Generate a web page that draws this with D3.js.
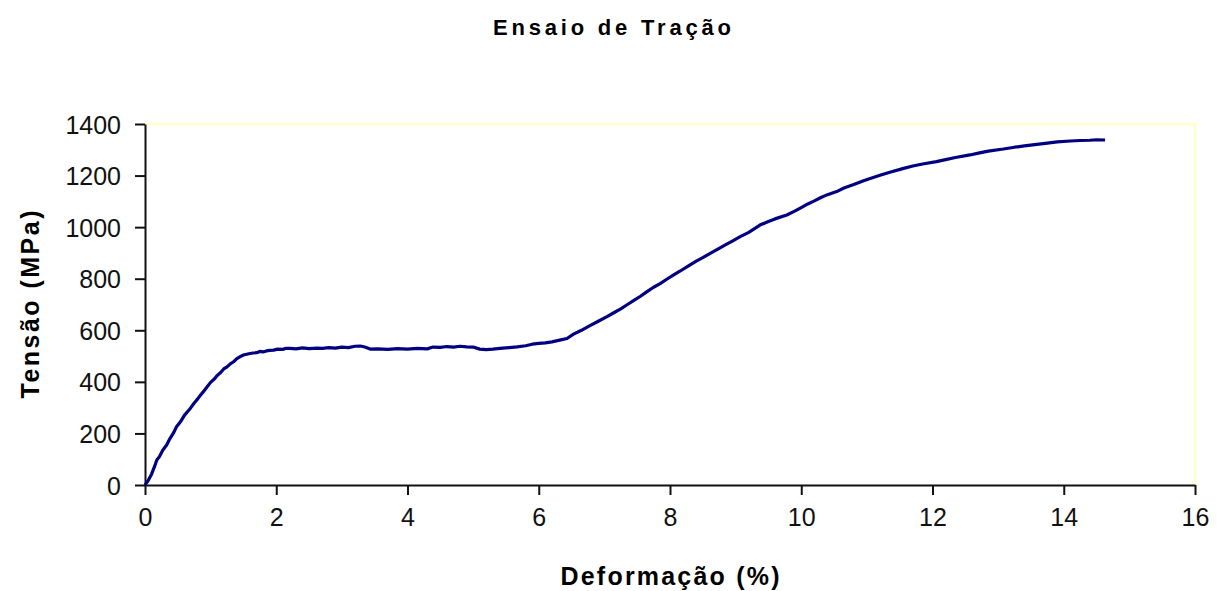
<!DOCTYPE html>
<html>
<head>
<meta charset="utf-8">
<script src="https://cdn.jsdelivr.net/npm/d3@7"></script>
<style>
  html, body { margin: 0; padding: 0; background: #fff; }
  svg { display: block; font-family: "Liberation Sans", Arial, sans-serif; }
</style>
</head>
<body>
<svg id="chart" width="1221" height="591"></svg>
<script>
// Tensile test: strain (%) vs. stress (MPa)
const strain = [
  0, 0.05, 0.10, 0.15, 0.18, 0.22, 0.27, 0.33, 0.38, 0.43, 0.48, 0.54, 0.60, 0.65, 0.69,
  0.75, 0.80, 0.85, 0.89, 0.95, 1.00, 1.06, 1.10, 1.14, 1.20, 1.25, 1.30, 1.35, 1.40, 1.45,
  1.50, 1.55, 1.60, 1.65, 1.70, 1.75, 1.80, 1.85, 1.90, 1.96, 2.02, 2.10, 2.15, 2.21, 2.30,
  2.40, 2.50, 2.62, 2.70, 2.80, 2.90, 3.00, 3.10, 3.20, 3.28, 3.35, 3.43, 3.55, 3.70, 3.85,
  4.00, 4.15, 4.30, 4.39, 4.50, 4.60, 4.70, 4.80, 4.90, 5.00, 5.10, 5.20, 5.30, 5.45, 5.55,
  5.67, 5.80, 5.90, 6.00, 6.10, 6.20, 6.32, 6.43, 6.53, 6.65, 6.78, 6.90, 7.04, 7.15, 7.25,
  7.34, 7.45, 7.55, 7.65, 7.75, 7.85, 7.95, 8.05, 8.15, 8.30, 8.40, 8.50, 8.66, 8.75, 8.85,
  8.95, 9.07, 9.20, 9.30, 9.37, 9.50, 9.60, 9.78, 9.90, 10.00, 10.10, 10.20, 10.30, 10.40, 10.54,
  10.65, 10.80, 10.95, 11.05, 11.20, 11.35, 11.56, 11.70, 11.85, 12.06, 12.20, 12.35, 12.57, 12.70, 12.85,
  13.08, 13.25, 13.40, 13.59, 13.75, 13.90, 14.10, 14.25, 14.40, 14.50, 14.63
];
const stress = [
  0, 18, 42, 75, 97, 110, 135, 155, 180, 200, 226, 245, 270, 285, 297,
  318, 333, 350, 362, 382, 398, 412, 425, 433, 450, 458, 470, 478, 490, 498,
  504, 507, 510, 512, 513, 518, 516, 520, 522, 523, 527, 526, 530, 530, 528,
  532, 529, 531, 530, 533, 531, 535, 533, 538, 539, 535, 527, 528, 526, 529,
  527, 530, 528, 535, 534, 537, 535, 538, 536, 535, 527, 525, 527, 531, 533,
  536, 540, 546, 549, 551, 555, 562, 568, 585, 600, 618, 634, 653, 669, 683,
  698, 716, 732, 750, 767, 781, 798, 814, 829, 853, 868, 882, 905, 918, 932,
  946, 963, 980, 996, 1008, 1022, 1032, 1047, 1062, 1076, 1090, 1102, 1115, 1126, 1138,
  1152, 1165, 1180, 1189, 1201, 1213, 1228, 1237, 1245, 1254, 1262, 1270, 1280, 1287, 1295,
  1303, 1310, 1315, 1321, 1326, 1331, 1334, 1336, 1337, 1339, 1338
];

const xTicks = [0, 2, 4, 6, 8, 10, 12, 14, 16];
const yTicks = [0, 200, 400, 600, 800, 1000, 1200, 1400];

const titleText = "Ensaio de Tração";
const xTitle = "Deformação (%)";
const yTitle = "Tensão (MPa)";

const svg = d3.select("#chart");
const plot = { left: 145, top: 124, right: 1195, bottom: 485 };

const x = d3.scaleLinear().domain([0, 16]).range([plot.left, plot.right]);
const y = d3.scaleLinear().domain([0, 1400]).range([plot.bottom, plot.top]);

// plot-area frame (pale yellow on the open sides)
svg.append("path")
  .attr("d", `M${plot.left},${plot.top}H${plot.right}V${plot.bottom}`)
  .attr("fill", "none")
  .attr("stroke", "#ffffcc")
  .attr("stroke-width", 2.5);

// axes
const xAxis = d3.axisBottom(x).tickValues(xTicks).tickFormat(d3.format("d"))
  .tickSize(10).tickSizeOuter(0).tickPadding(13);
const yAxis = d3.axisLeft(y).tickValues(yTicks).tickFormat(d3.format("d"))
  .tickSize(10).tickSizeOuter(0).tickPadding(14);

const gx = svg.append("g").attr("transform", `translate(0,${plot.bottom})`).call(xAxis);
const gy = svg.append("g").attr("transform", `translate(${plot.left},0)`).call(yAxis);

[gx, gy].forEach(g => {
  g.select(".domain").attr("stroke", "#111").attr("stroke-width", 2);
  g.selectAll(".tick line").attr("stroke", "#111").attr("stroke-width", 2);
  g.selectAll(".tick text")
    .attr("fill", "#111")
    .style("font-size", "25px")
    .style("font-family", "'Liberation Sans', Arial, sans-serif");
});
gy.selectAll(".tick text").attr("dy", "0.36em");
gx.selectAll(".tick text").attr("dy", "0.72em");

// stress-strain curve
const pts = strain.map((s, i) => [s, stress[i]]);
svg.append("path")
  .datum(pts)
  .attr("fill", "none")
  .attr("stroke", "#000080")
  .attr("stroke-width", 3.2)
  .attr("stroke-linejoin", "round")
  .attr("d", d3.line().x(d => x(d[0])).y(d => y(d[1])));

// titles
svg.append("text")
  .attr("x", 612).attr("y", 35)
  .attr("text-anchor", "middle")
  .attr("textLength", 238).attr("lengthAdjust", "spacing")
  .style("font-size", "22px").style("font-weight", "bold")
  .attr("fill", "#000")
  .text(titleText);

svg.append("text")
  .attr("x", x(8)).attr("y", 585)
  .attr("text-anchor", "middle")
  .attr("textLength", 219).attr("lengthAdjust", "spacing")
  .style("font-size", "25px").style("font-weight", "bold")
  .attr("fill", "#000")
  .text(xTitle);

svg.append("text")
  .attr("transform", `translate(39,${(plot.top + plot.bottom) / 2}) rotate(-90)`)
  .attr("text-anchor", "middle")
  .attr("textLength", 188).attr("lengthAdjust", "spacing")
  .style("font-size", "25px").style("font-weight", "bold")
  .attr("fill", "#000")
  .text(yTitle);
</script>
</body>
</html>
